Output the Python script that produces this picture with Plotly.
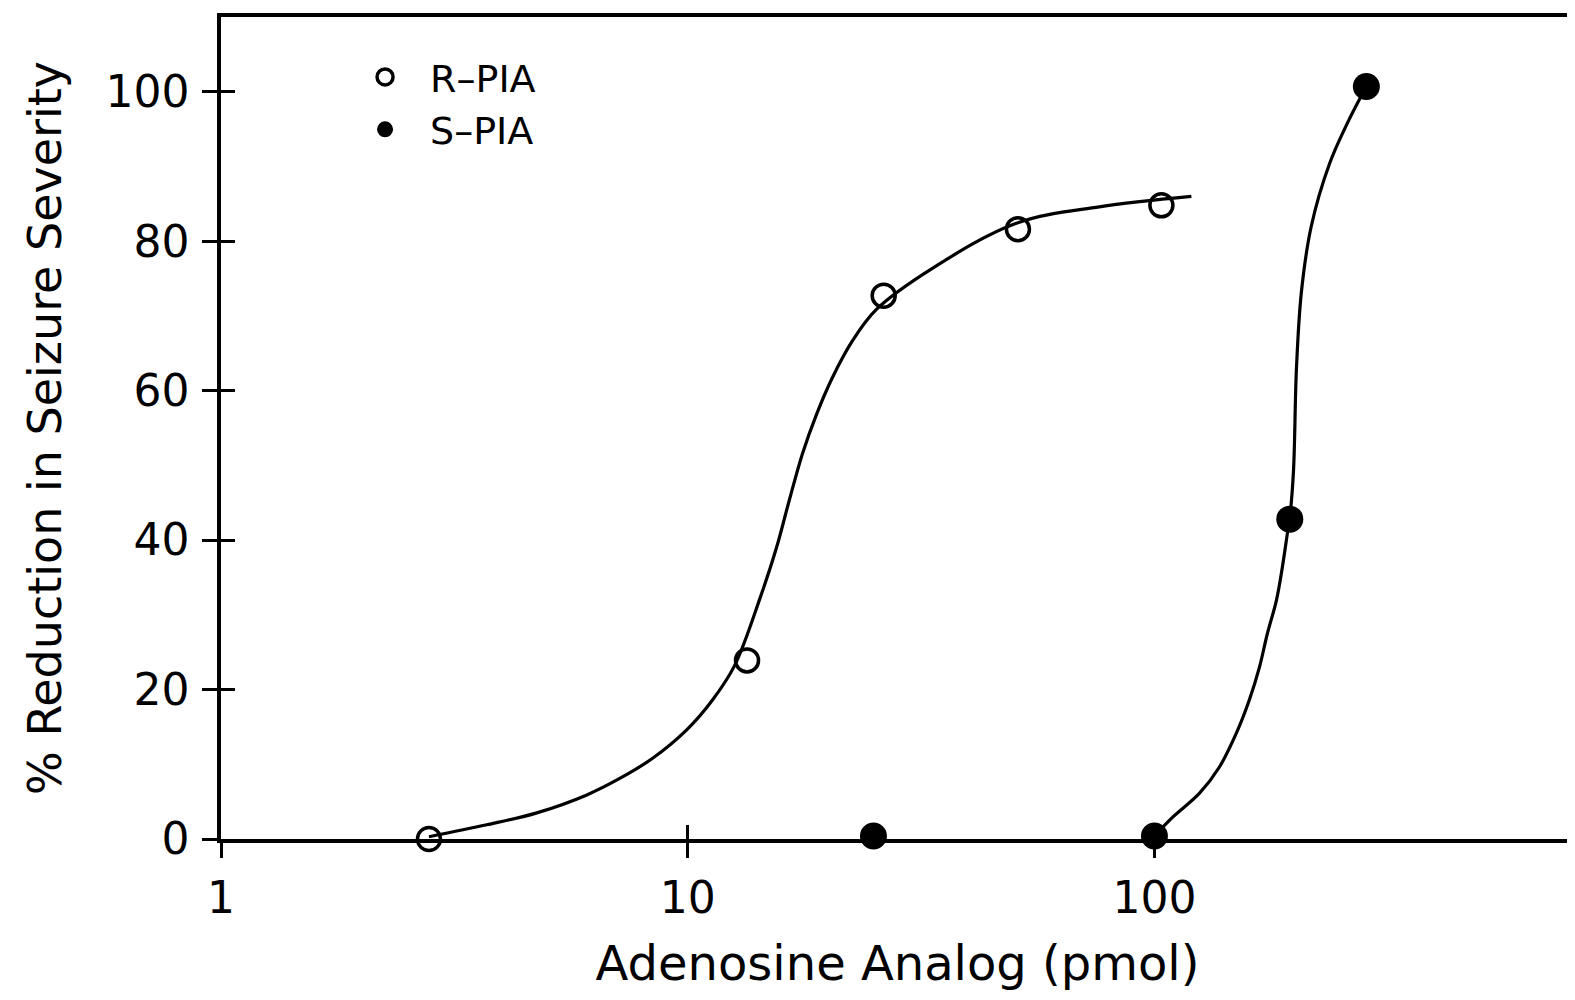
import plotly.graph_objects as go

# ---- data ----
r_pia_dose = [2.79, 13.4, 26.3, 51.0, 103.5]
r_pia_effect = [0.0, 23.9, 72.7, 81.6, 84.8]

s_pia_dose = [25, 100, 195, 284.5]
s_pia_effect = [0.4, 0.4, 42.8, 100.7]

# fitted curves
r_fit_dose = [2.79, 3.71, 4.75, 6.08, 7.15, 8.41, 9.95, 11.3, 12.6, 14.3, 15.5, 16.5,
              17.6, 18.9, 20.4, 22.5, 25.4, 33.5, 50.6, 76.2, 120]
r_fit_effect = [0.3, 1.9, 3.5, 5.9, 8.1, 10.8, 14.6, 18.6, 23.2, 32.3, 39.0, 45.3,
                51.5, 56.9, 61.7, 66.6, 70.9, 76.4, 82.4, 84.6, 86.0]

s_fit_dose = [100, 109.3, 124.8, 137.7, 149.9, 159.7, 167.9, 174.6, 182.5, 187.9, 192.7,
              195, 198.6, 201.5, 206.5, 216.8, 237, 260, 284.5]
s_fit_effect = [0.4, 2.9, 6.1, 9.6, 14.2, 18.6, 23.0, 27.5, 31.9, 36.3, 40.9,
                43.0, 49.3, 62.9, 73.2, 82.0, 90.3, 96.0, 100.7]

x_tickvals = [1, 10, 100]
x_ticktext = ["1", "10", "100"]
y_tickvals = [0, 20, 40, 60, 80, 100]
y_ticktext = ["0", "20", "40", "60", "80", "100"]

x_title = "Adenosine Analog (pmol)"
y_title = "% Reduction in Seizure Severity"
r_name = "R\u2013PIA"
s_name = "S\u2013PIA"

FONT = "DejaVu Sans"
INK = "black"
X_RANGE = [0, 2.899]
Y_RANGE = [0, 110.0]

fig = go.Figure()

# fit curves live on the companion axes (which also draw the inner tick halves)
fig.add_trace(go.Scatter(
    x=r_fit_dose, y=r_fit_effect, mode="lines", xaxis="x2", yaxis="y2",
    line=dict(color=INK, width=3.2, shape="spline", smoothing=1.0),
    showlegend=False, hoverinfo="skip", cliponaxis=False))
fig.add_trace(go.Scatter(
    x=s_fit_dose, y=s_fit_effect, mode="lines", xaxis="x2", yaxis="y2",
    line=dict(color=INK, width=3.2, shape="spline", smoothing=1.0),
    showlegend=False, hoverinfo="skip", cliponaxis=False))

fig.add_trace(go.Scatter(
    x=r_pia_dose, y=r_pia_effect, mode="markers", name=r_name,
    marker=dict(symbol="circle-open", size=23, color=INK, line=dict(width=3.5, color=INK)),
    cliponaxis=False))
fig.add_trace(go.Scatter(
    x=s_pia_dose, y=s_pia_effect, mode="markers", name=s_name,
    marker=dict(symbol="circle", size=27, color=INK, line=dict(width=0)),
    cliponaxis=False))

fig.update_layout(
    width=1575, height=1000,
    margin=dict(l=213, r=8, t=5, b=169),
    paper_bgcolor="white", plot_bgcolor="white",
    font=dict(family=FONT, color=INK, size=44),
    showlegend=True,
    legend=dict(
        x=0.088, y=0.965, xanchor="left", yanchor="top",
        bgcolor="rgba(0,0,0,0)", borderwidth=0,
        font=dict(family=FONT, size=38, color=INK),
        itemwidth=80, tracegroupgap=0,
    ),
    xaxis=dict(
        type="log", range=X_RANGE,
        tickvals=x_tickvals, ticktext=x_ticktext,
        ticks="outside", ticklen=15, tickwidth=3, tickcolor=INK,
        ticklabelstandoff=2,
        showline=True, linewidth=3.5, linecolor=INK, mirror=True,
        showgrid=False, zeroline=False,
        tickfont=dict(family=FONT, size=44, color=INK),
        title=dict(text=x_title, font=dict(family=FONT, size=48, color=INK), standoff=26),
    ),
    yaxis=dict(
        range=Y_RANGE,
        tickvals=y_tickvals, ticktext=y_ticktext,
        ticks="outside", ticklen=15, tickwidth=3, tickcolor=INK,
        ticklabelstandoff=4,
        showline=True, linewidth=3.5, linecolor=INK, mirror=True,
        showgrid=False, zeroline=False,
        tickfont=dict(family=FONT, size=44, color=INK),
        title=dict(text=y_title, font=dict(family=FONT, size=46, color=INK), standoff=30),
    ),
    xaxis2=dict(
        type="log", range=X_RANGE, overlaying="x", anchor="y", side="bottom",
        tickvals=x_tickvals, ticks="inside", ticklen=14, tickwidth=3, tickcolor=INK,
        showticklabels=False, showline=False, showgrid=False, zeroline=False,
    ),
    yaxis2=dict(
        range=Y_RANGE, overlaying="y", anchor="x", side="left",
        tickvals=y_tickvals, ticks="inside", ticklen=14, tickwidth=3, tickcolor=INK,
        showticklabels=False, showline=False, showgrid=False, zeroline=False,
    ),
)

fig.write_html("out.html")
